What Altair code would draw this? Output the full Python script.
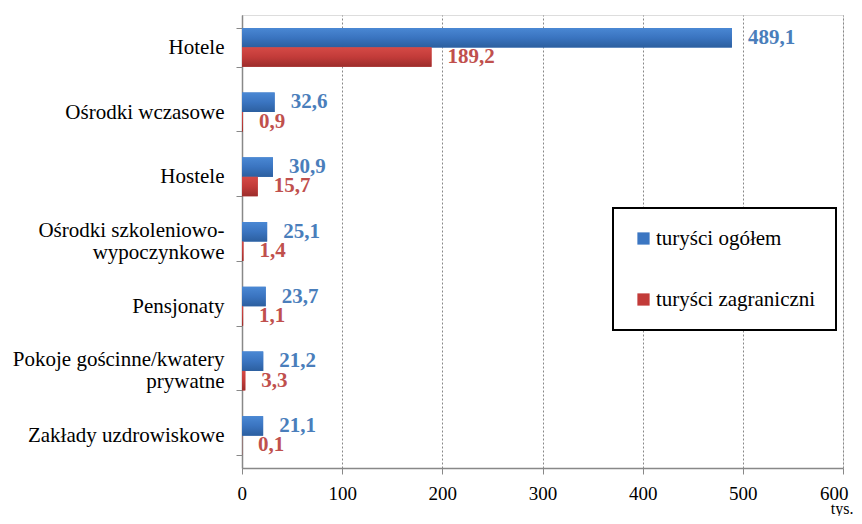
import altair as alt
import pandas as pd

categories = ["Hotele", "Ośrodki wczasowe", "Hostele", "Ośrodki szkoleniowo-|wypoczynkowe",
              "Pensjonaty", "Pokoje gościnne/kwatery|prywatne", "Zakłady uzdrowiskowe"]
total = [489.1, 32.6, 30.9, 25.1, 23.7, 21.2, 21.1]
foreign = [189.2, 0.9, 15.7, 1.4, 1.1, 3.3, 0.1]
series = ["turyści ogółem", "turyści zagraniczni"]
colors_bar = ["#3b76c2", "#c23b39"]
grad_blue = ["#4a88d4", "#3a74c0", "#2c5f9f"]
grad_red = ["#d54a46", "#c23b39", "#9c2d2b"]
colors_text = ["#4a7ebb", "#c0504d"]
x_ticks = [0, 100, 200, 300, 400, 500, 600]

rows = []
for c, t, f in zip(categories, total, foreign):
    rows.append({"cat": c, "series": series[0], "value": t})
    rows.append({"cat": c, "series": series[1], "value": f})
df = pd.DataFrame(rows)

serif = "'Times New Roman', 'Liberation Serif', serif"

y_enc = alt.Y("cat:N", sort=categories,
              scale=alt.Scale(paddingInner=0.4, paddingOuter=0.2),
              axis=alt.Axis(title=None, labelExpr="split(datum.label, '|')",
                            labelFont=serif, labelFontSize=21, labelColor="#000",
                            labelLineHeight=22, labelPadding=12, tickBand="extent",
                            labelOffset={"condition": {"test": "indexof(datum.label, '|') >= 0",
                                                       "value": -11}, "value": 0},
                            labelLimit=300,
                            tickSize=6, tickColor="#888", domainColor="#888",
                            domainWidth=1.5, grid=False))
x_enc = alt.X("value:Q", scale=alt.Scale(domain=[0, 600], nice=False),
              axis=alt.Axis(values=x_ticks, title="tys.", titleFont=serif,
                            titleFontSize=16, titleFontWeight="normal",
                            titleX=611, titleY=48, titleAlign="right", titleBaseline="bottom",
                            labelFont=serif, labelFontSize=19, labelColor="#000",
                            labelPadding=10, tickSize=6, tickColor="#888",
                            domainColor="#888", domainWidth=1.5,
                            grid=True, gridDash=[2, 2], gridColor="#888",
                            gridWidth=1, labelFlush=True, labelFlushOffset=5))
yoff = alt.YOffset("series:N", sort=series, scale=alt.Scale(paddingInner=0, paddingOuter=0))

bars = alt.Chart(df).mark_bar(size=19.5).encode(
    y=y_enc, x=x_enc, yOffset=yoff,
    color=alt.Color("series:N", sort=series,
                    scale=alt.Scale(domain=series, range=colors_bar),
                    legend=alt.Legend(title=None, orient="none", legendX=371, legendY=193,
                                      symbolType="square", symbolSize=150,
                                      symbolStrokeWidth=0, labelOffset=2,
                                      labelFont=serif, labelFontSize=21, labelColor="#000",
                                      rowPadding=39, padding=20,
                                      strokeColor="#000",
                                      fillColor="#fff", labelLimit=300)),
)


def grad(stops):
    return alt.Gradient(gradient="linear", x1=0, x2=0, y1=0, y2=1,
                        stops=[alt.GradientStop(color=stops[0], offset=0),
                               alt.GradientStop(color=stops[1], offset=0.5),
                               alt.GradientStop(color=stops[2], offset=1)])


bars_blue = alt.Chart(df).transform_filter(
    alt.datum.series == series[0]
).mark_bar(size=19.5, color=grad(grad_blue)).encode(
    y=alt.Y("cat:N", sort=categories), x=alt.X("value:Q"), yOffset=yoff)
bars_red = alt.Chart(df).transform_filter(
    alt.datum.series == series[1]
).mark_bar(size=19.5, color=grad(grad_red)).encode(
    y=alt.Y("cat:N", sort=categories), x=alt.X("value:Q"), yOffset=yoff)

text = alt.Chart(df).transform_calculate(
    lab="replace(format(datum.value, '.1f'), '.', ',')"
).mark_text(align="left", baseline="middle", dx=16, font=serif, fontSize=21,
            fontWeight="bold").encode(
    y=alt.Y("cat:N", sort=categories), x=alt.X("value:Q"), yOffset=yoff,
    text="lab:N",
    color=alt.Color("series:N", sort=series,
                    scale=alt.Scale(domain=series, range=colors_text), legend=None),
)

chart = alt.layer(bars, bars_blue, bars_red, text).resolve_scale(color="independent").properties(
    width=601, height=453,
    autosize=alt.AutoSizeParams(type="none"),
    padding={"left": 234, "top": 7, "right": 11, "bottom": 48},
).configure_view(stroke=None).configure(background="#fff", font=serif).configure_legend(
    strokeWidth=2, labelFont=serif).configure_axis(labelFont=serif, titleFont=serif)

chart.save("out.html", embed_options={"renderer": "svg", "actions": False})
